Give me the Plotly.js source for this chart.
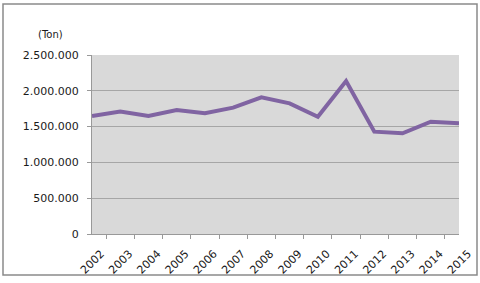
<!DOCTYPE html>
<html><head><meta charset="utf-8">
<script src="https://cdn.plot.ly/plotly-3.0.1.min.js"></script>
<style>html,body{margin:0;padding:0;background:#fff}#c{width:480px;height:283px}</style>
</head><body><div id="c"></div>
<script>
const years = ['2002','2003','2004','2005','2006','2007','2008','2009','2010','2011','2012','2013','2014','2015'];
const tons = [1648000,1711000,1648000,1730000,1686000,1765000,1909000,1825000,1638000,2137000,1429000,1406000,1568000,1546000];
const yTicks = [0,500000,1000000,1500000,2000000,2500000];
const unitLabel = '(Ton)';

const L=92, R=21, T=55, B=49, W=480, H=283;
const pw=W-L-R, ph=H-T-B;
const fx = px => (px-L)/pw, fy = py => (H-B-py)/ph;

Plotly.newPlot('c', [{
  x: years, y: tons, type:'scatter', mode:'lines',
  line:{color:'#8064A2', width:4}
}], {
  width:W, height:H,
  margin:{l:L, r:R, t:T, b:B},
  separators: ',.',
  paper_bgcolor:'#fff', plot_bgcolor:'#D9D9D9',
  font:{family:'DejaVu Sans, Verdana, sans-serif', size:10, color:'#1a1a1a'},
  showlegend:false,
  xaxis:{type:'category', tickangle:-45, tickson:'boundaries', ticks:'outside', ticklen:4, tickcolor:'#999',
    showgrid:false, showline:true, linecolor:'#999', linewidth:1, tickfont:{size:11},
    ticklabelstandoff:8, ticklabelshift:9, fixedrange:true},
  yaxis:{range:[0,2500000], tickvals:yTicks, tickformat:',d', ticks:'outside', ticklen:4, tickcolor:'#999',
    showgrid:true, gridcolor:'#A6A6A6', gridwidth:1, showline:true, linecolor:'#999', linewidth:1,
    zeroline:false, tickfont:{size:11}, ticklabelstandoff:6, fixedrange:true},
  annotations:[{text:unitLabel, xref:'paper', yref:'paper', x:fx(36), y:fy(35), xanchor:'left', yanchor:'middle',
    showarrow:false, font:{size:10, color:'#1a1a1a'}}],
  shapes:[{type:'rect', xref:'paper', yref:'paper', x0:fx(3), x1:fx(477), y0:fy(275), y1:fy(4),
    line:{color:'#8a8a8a', width:1.5}, fillcolor:'rgba(0,0,0,0)', layer:'below'}]
}, {displayModeBar:false, staticPlot:true});
</script></body></html>
